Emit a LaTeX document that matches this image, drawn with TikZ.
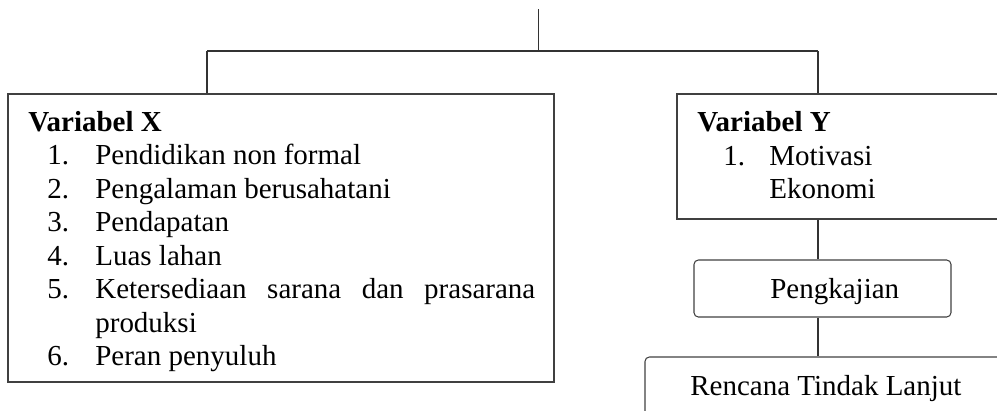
\documentclass[tikz,border=0pt]{standalone}
\usepackage{fontspec}
\setmainfont{Liberation Serif}
\usetikzlibrary{fit}

\tikzset{
  box/.style={draw=black!75, line width=0.6pt, inner sep=0pt},
  rbox/.style={box, rounded corners=2.5pt},
  txt/.style={anchor=base west, inner sep=0pt, font=\fontsize{16.5}{19}\selectfont},
  link/.style={draw=black!80, line width=0.6pt}
}

\begin{document}
\begin{tikzpicture}[x=0.02cm, y=-0.02cm]
  \useasboundingbox (0,0) rectangle (997,410);
  \clip (0,0) rectangle (997,410);

  % boxes
  \node[box, fit={(8,94) (554,382)}] (varx) {};
  \node[box, fit={(677,94) (1010,219)}] (vary) {};
  \node[rbox, fit={(694,260) (951,317)}] (kaji) {};
  \node[rbox, fit={(645,357) (1010,430)}] (rtl) {};

  % connectors
  \coordinate (top) at (538.5,9);
  \coordinate (hub) at (538.5,51);
  \coordinate (legx) at (207,51);
  \coordinate (legy) at (818,51);
  \draw[link] (top) -- (hub);
  \draw[link] (legx) -- (legy);
  \draw[link] (legx) -- (legx |- varx.north);
  \draw[link] (legy) -- (legy |- vary.north);
  \draw[link] (legy |- vary.south) -- (legy |- kaji.north);
  \draw[link] (legy |- kaji.south) -- (legy |- rtl.north);

  % variabel X
  \node[txt] (xhead) at (28,131) {\textbf{Variabel X}};
  \foreach \n/\t/\i in {1./Pendidikan non formal/1, 2./Pengalaman berusahatani/2,
      3./Pendapatan/3, 4./Luas lahan/4, 6./Peran penyuluh/7} {
    \node[txt] (xn\i) at (47,{131+33.5*\i}) {\n};
    \node[txt] (xi\i) at (95,{131+33.5*\i}) {\t};
  }
  \node[txt] (xn5) at (47,{131+33.5*5}) {5.};
  \node[txt] (xi5) at (95,{131+33.5*5}) {\makebox[8.8cm][s]{Ketersediaan sarana dan prasarana}};
  \node[txt] (xi6) at (95,{131+33.5*6}) {produksi};

  % variabel Y
  \node[txt] (yhead) at (697,131) {\textbf{Variabel Y}};
  \node[txt] (yn1) at (723,165) {1.};
  \node[txt] (yi1) at (769,165) {Motivasi};
  \node[txt] (yi2) at (769,198) {Ekonomi};

  \node[txt] (kajit) at (770,298) {Pengkajian};
  \node[txt] (rtlt) at (690,395) {Rencana Tindak Lanjut};
\end{tikzpicture}
\end{document}
